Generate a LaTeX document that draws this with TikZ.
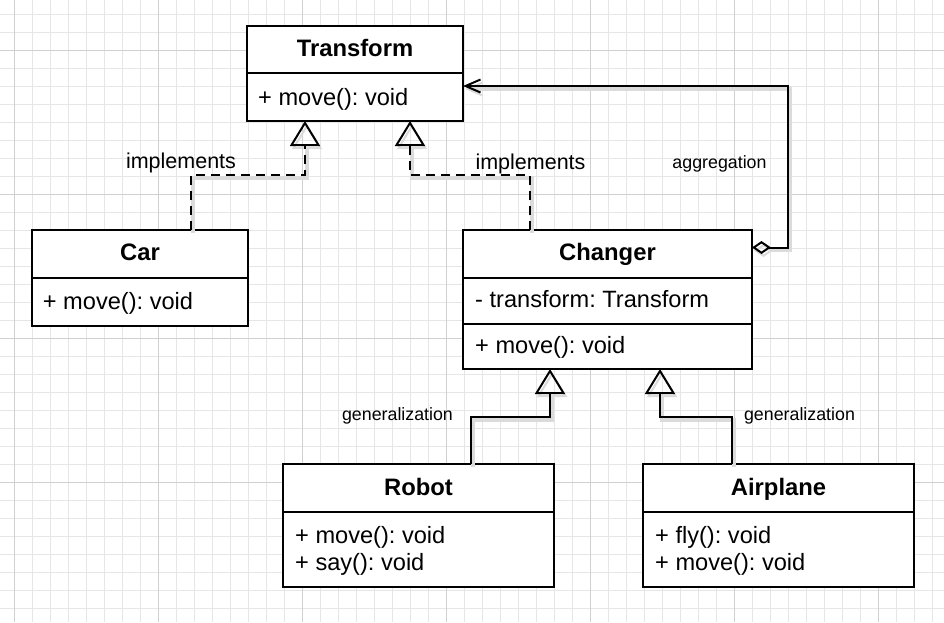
\documentclass[tikz,border=0pt]{standalone}
\usepackage{fontspec}
\setmainfont{Liberation Sans}
\usetikzlibrary{arrows.meta,calc}
\definecolor{gridminor}{HTML}{E6E6E6}
\definecolor{gridmajor}{HTML}{D0D0D0}
\frenchspacing
\begin{document}
\begin{tikzpicture}[x=1pt,y=-1pt,
  box/.style={draw=black, line width=2pt, fill=white, outer sep=0pt, inner sep=0pt},
  ttl/.style={inner sep=0pt, anchor=base, font=\fontsize{23.8}{28}\selectfont\bfseries},
  mem/.style={inner sep=0pt, anchor=base west, font=\fontsize{23.6}{28}\selectfont},
  shadowed/.style={preaction={draw=black!14, line width=3.5pt, transform canvas={shift={(2,3)}}}},
  conn/.style={line width=2pt, black, shadowed},
  impl/.style={conn, dash pattern=on 9pt off 6pt, -{Triangle[open, length=25pt, width=30pt, line width=2pt]}},
  gen/.style={conn, -{Triangle[open, length=25pt, width=30pt, line width=2pt]}},
  agg/.style={conn, {Diamond[open, length=19pt, width=13pt, line width=2pt]}-{Straight Barb[length=15pt, width=13pt, line width=2pt]}},
  lblbig/.style={anchor=base, inner sep=0pt, font=\fontsize{21.5}{24}\selectfont},
  lblsmall/.style={anchor=base, inner sep=0pt, font=\fontsize{17.8}{20}\selectfont}
]
\useasboundingbox (0,0) rectangle (944,622);
\fill[white] (0,0) rectangle (944,622);
% grid
\foreach \i in {0,...,51} {\draw[gridminor, line width=1pt] (14.3+18*\i,0) -- (14.3+18*\i,622);}
\foreach \i in {0,...,33} {\draw[gridminor, line width=1pt] (0,14.3+18*\i) -- (944,14.3+18*\i);}
\foreach \i in {0,...,6} {\draw[gridmajor, line width=1pt] (14.3+144*\i,0) -- (14.3+144*\i,622);}
\foreach \i in {0,...,3} {\draw[gridmajor, line width=1pt] (0,50.3+144*\i) -- (944,50.3+144*\i);}

% Transform
\node[box, minimum width=216, minimum height=47] (transform) at (355,49.5) {};
\node[box, minimum width=216, minimum height=48] (transformops) at (355,97) {};
\node[ttl] (transformname) at (355,56.7) {Transform};
\node[mem] (transformm1) at (258,105) {+ move(): void};
% Car
\node[box, minimum width=216, minimum height=48] (car) at (140,254) {};
\node[box, minimum width=216, minimum height=48] (carops) at (140,302) {};
\node[ttl] (carname) at (140,260.7) {Car};
\node[mem] (carm1) at (42.7,309.3) {+ move(): void};
% Changer
\node[box, minimum width=289, minimum height=48] (changer) at (607.5,254) {};
\node[box, minimum width=289, minimum height=46] (changerattr) at (607.5,301) {};
\node[box, minimum width=289, minimum height=45] (changerops) at (607.5,346.5) {};
\node[ttl] (changername) at (607.5,260.3) {Changer};
\node[mem] (changera1) at (475,307.3) {- transform: Transform};
\node[mem] (changerm1) at (475,353.3) {+ move(): void};
% Robot
\node[box, minimum width=271, minimum height=48] (robot) at (418.5,488) {};
\node[box, minimum width=271, minimum height=75] (robotops) at (418.5,549.5) {};
\node[ttl] (robotname) at (418.5,495) {Robot};
\node[mem] (robotm1) at (295,543.5) {+ move(): void};
\node[mem] (robotm2) at (295,570.7) {+ say(): void};
% Airplane
\node[box, minimum width=271, minimum height=48] (airplane) at (778.5,488) {};
\node[box, minimum width=271, minimum height=75] (airplaneops) at (778.5,549.5) {};
\node[ttl] (airplanename) at (778.5,495) {Airplane};
\node[mem] (airplanem1) at (655,543.5) {+ fly(): void};
\node[mem] (airplanem2) at (655,570.7) {+ move(): void};

% implements
\draw[impl] ($(car.north)+(51,0)$) |- ($(transformops.south)+(-50,54)$) -- ($(transformops.south)+(-50,0)$);
\draw[impl] ($(changer.north)+(-77.5,0)$) |- ($(transformops.south)+(55,54)$) -- ($(transformops.south)+(55,0)$);
% generalization
\draw[gen] ($(robot.north)+(52.5,0)$) |- ($(changerops.south)+(-57.5,48)$) -- ($(changerops.south)+(-57.5,0)$);
\draw[gen] ($(airplane.north)+(-46.5,0)$) |- ($(changerops.south)+(52.5,48)$) -- ($(changerops.south)+(52.5,0)$);
% aggregation
\draw[agg] ($(changer.north east)+(0,17.5)$) -- ++(36,0) |- ($(transformops.north east)+(0,13)$);

% labels
\node[lblbig] (impl1) at (181,168.5) {implements};
\node[lblbig] (impl2) at (530.5,169) {implements};
\node[lblsmall] (agglbl) at (719.5,168.3) {aggregation};
\node[lblsmall] (gen1) at (397.5,420) {generalization};
\node[lblsmall] (gen2) at (799.5,420) {generalization};
\end{tikzpicture}
\end{document}
